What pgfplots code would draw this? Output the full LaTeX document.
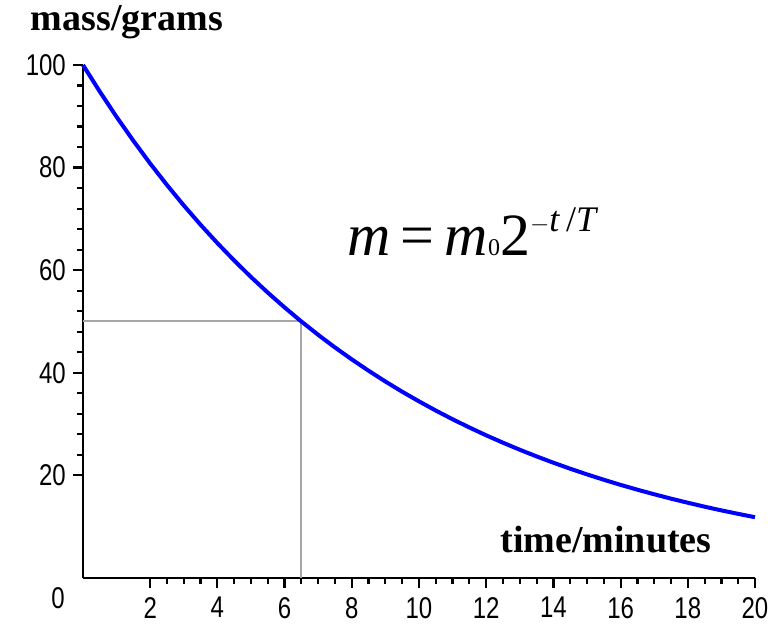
\documentclass[border=0pt]{standalone}
\usepackage{pgfplots}
\pgfplotsset{compat=1.18}
\usepackage{fontspec}
\setmainfont{Liberation Serif}
\newfontfamily\arialn[FakeStretch=0.8]{Liberation Sans}

\begin{document}
\begin{tikzpicture}
\useasboundingbox (-83pt,-49pt) rectangle (697pt,578pt);
\begin{axis}[
at={(0,0)}, anchor=south west,
scale only axis,
width=672pt, height=513pt,
xmin=0, xmax=20, ymin=0, ymax=100,
axis lines*=left,
axis line style={line width=2.6pt},
xtick={2,4,...,20},
ytick={20,40,...,100},
minor x tick num=3,
minor y tick num=4,
tick align=outside,
tick style={black, line width=2.2pt},
major tick length=10pt,
minor tick length=6pt,
tick label style={font=\fontsize{30}{30}\arialn, inner sep=1pt},
/pgf/number format/assume math mode=true,
xticklabel style={yshift=-8pt},
yticklabel style={xshift=-6pt},
clip=false,
]
\addplot[gray!70, line width=2pt] coordinates {(0,50) (6.5,50) (6.5,0)};
\addplot[blue, line width=4pt] coordinates {
(0,100) (0.5,94.81) (1,89.88) (1.5,85.22) (2,80.79) (2.5,76.60) (3,72.62)
(3.5,68.85) (4,65.28) (4.5,61.89) (5,58.67) (5.5,55.63) (6,52.74) (6.5,50)
(7,47.40) (7.5,44.94) (8,42.61) (8.5,40.40) (9,38.30) (9.5,36.31) (10,34.43)
(10.5,32.64) (11,30.94) (11.5,29.34) (12,27.81) (12.5,26.37) (13,25)
(13.5,23.70) (14,22.47) (14.5,21.30) (15,20.20) (15.5,19.15) (16,18.15)
(16.5,17.21) (17,16.32) (17.5,15.47) (18,14.67) (18.5,13.90) (19,13.18)
(19.5,12.50) (20,11.85)
};
\end{axis}
\node[font=\fontsize{30}{30}\arialn, inner sep=1pt] at (-25pt,-20pt) {0};
\node[font=\fontsize{38}{38}\bfseries] at (44pt,556pt) {mass/grams};
\node[font=\fontsize{38}{38}\bfseries] at (523pt,38pt) {time/minutes};
\node[font=\fontsize{60}{60}\selectfont] at (390pt,346pt)
  {\textit{m}\,=\,\textit{m}{\fontsize{24}{24}\selectfont 0}2\raisebox{24pt}{\fontsize{36}{36}\selectfont $-$\textit{t}\,/\textit{T}}};
\end{tikzpicture}
\end{document}
